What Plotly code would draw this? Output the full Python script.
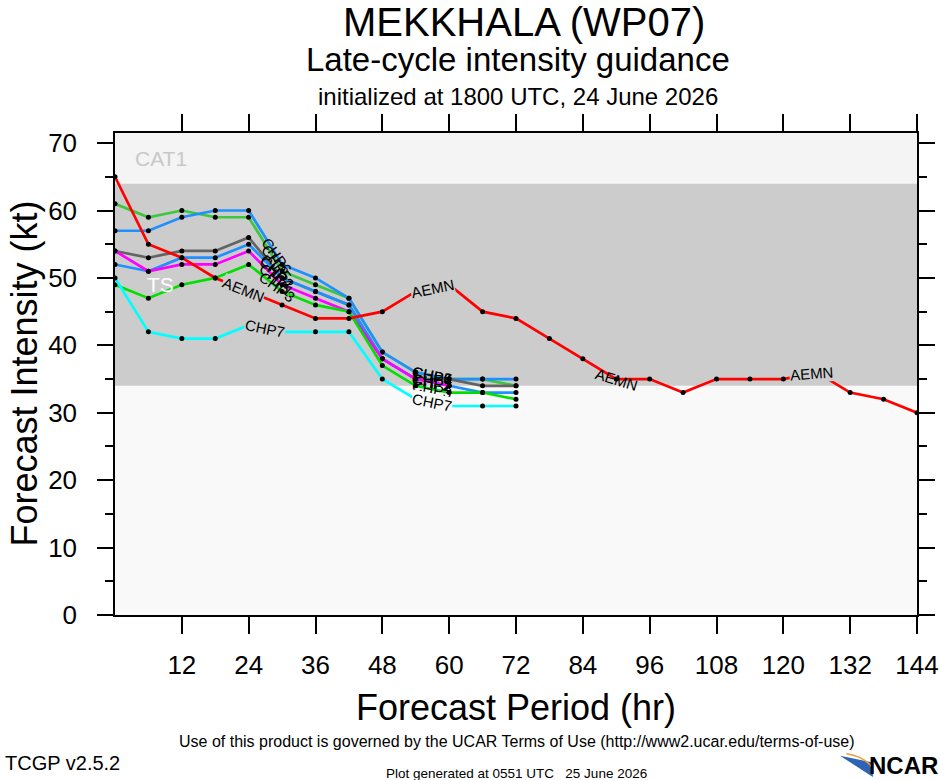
import numpy as np
import plotly.graph_objects as go

# forecast hours
hours = list(range(0, 145, 6))

# intensity guidance (kt)
aemn = [65, 55, 53, 50, 48, 46, 44, 44, 45, 48, 49, 45, 44, 41, 38, 35, 35, 33, 35, 35, 35, 36, 33, 32, 30]
chp6 = [57, 57, 59, 60, 60, 52, 50, 47, 39, 36, 35, 35, 35]
chp5 = [61, 59, 60, 59, 59, 51, 49, 47, 39, 36, 35, 35, 34]
chp4 = [54, 53, 54, 54, 56, 50, 48, 46, 38, 35, 35, 34, 34]
chp2 = [52, 51, 53, 53, 55, 50, 48, 46, 38, 35, 34, 33, 33]
chp1 = [54, 51, 52, 52, 54, 49, 47, 45, 38, 35, 34]
chp3 = [49, 47, 49, 50, 52, 48, 46, 45, 37, 34, 33, 33, 32]
chp7 = [50, 42, 41, 41, 43, 42, 42, 42, 35, 32, 31, 31, 31]

# intensity categories (kt)
band_names = ['TS', 'CAT1']
band_lo = [34, 64]
band_hi = [64, 71.5]

xticks = list(range(12, 145, 12))

series = [
    ('CHP5', chp5, '#3cc83c', [29, 57]),
    ('CHP6', chp6, '#1e90ff', [29, 57]),
    ('CHP4', chp4, '#646464', [29, 57]),
    ('CHP2', chp2, '#1e90ff', [29, 57]),
    ('CHP1', chp1, '#ff00ff', [29, 57]),
    ('CHP3', chp3, '#00e000', [29, 57]),
    ('CHP7', chp7, '#00ffff', [27, 57]),
    ('AEMN', aemn, '#ff0000', [23, 57, 90, 125]),
]

YMAX = 71.5
KX = 802 / 144.0   # px per hour
KY = 482 / YMAX    # px per kt


def label_spot(x, y, xc, half=1.5):
    # place a line label on the curve, tilted along it
    yc = np.interp(xc, x, y)
    y0 = np.interp(xc - half, x, y)
    y1 = np.interp(xc + half, x, y)
    ang = np.degrees(np.arctan2(-(y1 - y0) * KY, 2 * half * KX))
    return yc, ang


fig = go.Figure()

for name, vals, col, spots in series:
    xs = hours[:len(vals)]
    fig.add_trace(go.Scatter(
        x=xs, y=vals, mode='lines+markers', name=name,
        line=dict(color=col, width=2.7),
        marker=dict(color='black', size=5),
        showlegend=False))
    for xc in spots:
        yc, ang = label_spot(xs, vals, xc)
        bg = None
        if name in ('AEMN', 'CHP7'):
            if 35.5 <= yc <= 62.5:
                bg = '#cccccc'
            elif yc <= 32.5:
                bg = '#f9f9f9'
        fig.add_annotation(x=xc, y=yc, text=name, showarrow=False,
                           textangle=ang, bgcolor=bg, borderpad=0,
                           font=dict(size=15, color='black', family='Liberation Sans'))

# category bands
band_fill = ['#cccccc', '#f4f4f4']
band_font = ['white', '#c8c8c8']
for nm, lo, hi, fc, tc in zip(band_names, band_lo, band_hi, band_fill, band_font):
    fig.add_shape(type='rect', xref='paper', yref='y', x0=0, x1=1, y0=lo, y1=hi,
                  fillcolor=fc, line=dict(width=0), layer='below')
    fig.add_annotation(xref='paper', yref='y', x=0.057, y=(lo + hi) / 2, text=nm,
                       showarrow=False, xanchor='center', yanchor='middle',
                       font=dict(size=21, color=tc, family='Liberation Sans'))

font = 'Liberation Sans'
texts = [
    ('MEKKHALA (WP07)', 0.51, 1.231, 40, 'center'),
    ('Late-cycle intensity guidance', 0.503, 1.152, 33, 'center'),
    ('initialized at 1800 UTC, 24 June 2026', 0.503, 1.075, 24, 'center'),
    ('Forecast Period (hr)', 0.5, -0.191, 36, 'center'),
    ('Use of this product is governed by the UCAR Terms of Use (http://www2.ucar.edu/terms-of-use)',
     0.501, -0.263, 16, 'center'),
    ('TCGP v2.5.2', -0.14, -0.308, 20, 'left'),
    ('Plot generated at 0551 UTC   25 June 2026', 0.5, -0.328, 13.5, 'center'),
]
for t, x, y, s, xa in texts:
    fig.add_annotation(xref='paper', yref='paper', x=x, y=y, text=t, showarrow=False,
                       xanchor=xa, yanchor='middle', font=dict(size=s, color='black', family=font))

fig.add_annotation(xref='paper', yref='paper', x=-0.114, y=0.5, text='Forecast Intensity (kt)',
                   textangle=-90, showarrow=False, xanchor='center', yanchor='middle',
                   font=dict(size=36, color='black', family=font))

# NCAR logo
fig.add_shape(type='path', xref='paper', yref='paper', layer='above',
              path='M 0.904 -0.292 L 0.945 -0.336 L 0.945 -0.306 Z',
              fillcolor='#2f64b4', line=dict(width=0))
fig.add_shape(type='path', xref='paper', yref='paper', layer='above',
              path='M 0.912 -0.288 Q 0.935 -0.294 0.945 -0.318',
              line=dict(color='#f0a040', width=1.5))
fig.add_annotation(xref='paper', yref='paper', x=1.0287, y=-0.313, text='<b>NCAR</b>',
                   showarrow=False, xanchor='right', yanchor='middle',
                   font=dict(size=24, color='black', family=font))

fig.update_xaxes(range=[0, 144], tickvals=xticks, ticks='outside', ticklen=17, tickwidth=1.5,
                 tickcolor='black', showline=True, linewidth=1.5, linecolor='black',
                 mirror='allticks', showgrid=False, zeroline=False, ticklabelstandoff=9,
                 automargin=False,
                 tickfont=dict(size=26, color='black', family=font))
fig.update_yaxes(range=[0, YMAX], dtick=10, tick0=0, ticks='outside', ticklen=16, tickwidth=1.5,
                 tickcolor='black', showline=True, linewidth=1.5, linecolor='black',
                 mirror='allticks', showgrid=False, zeroline=False, ticklabelstandoff=15,
                 automargin=False,
                 minor=dict(dtick=5, ticks='outside', ticklen=8, tickwidth=1.5, tickcolor='black'),
                 tickfont=dict(size=26, color='black', family=font))

fig.update_layout(width=940, height=780, margin=dict(l=115, r=23, t=133, b=165),
                  paper_bgcolor='white', plot_bgcolor='#f9f9f9',
                  font=dict(family=font, color='black'))

fig.write_html("out.html", config={'displayModeBar': False},
               post_script="document.body.style.margin='0';"
                           "document.body.style.overflow='hidden';")
